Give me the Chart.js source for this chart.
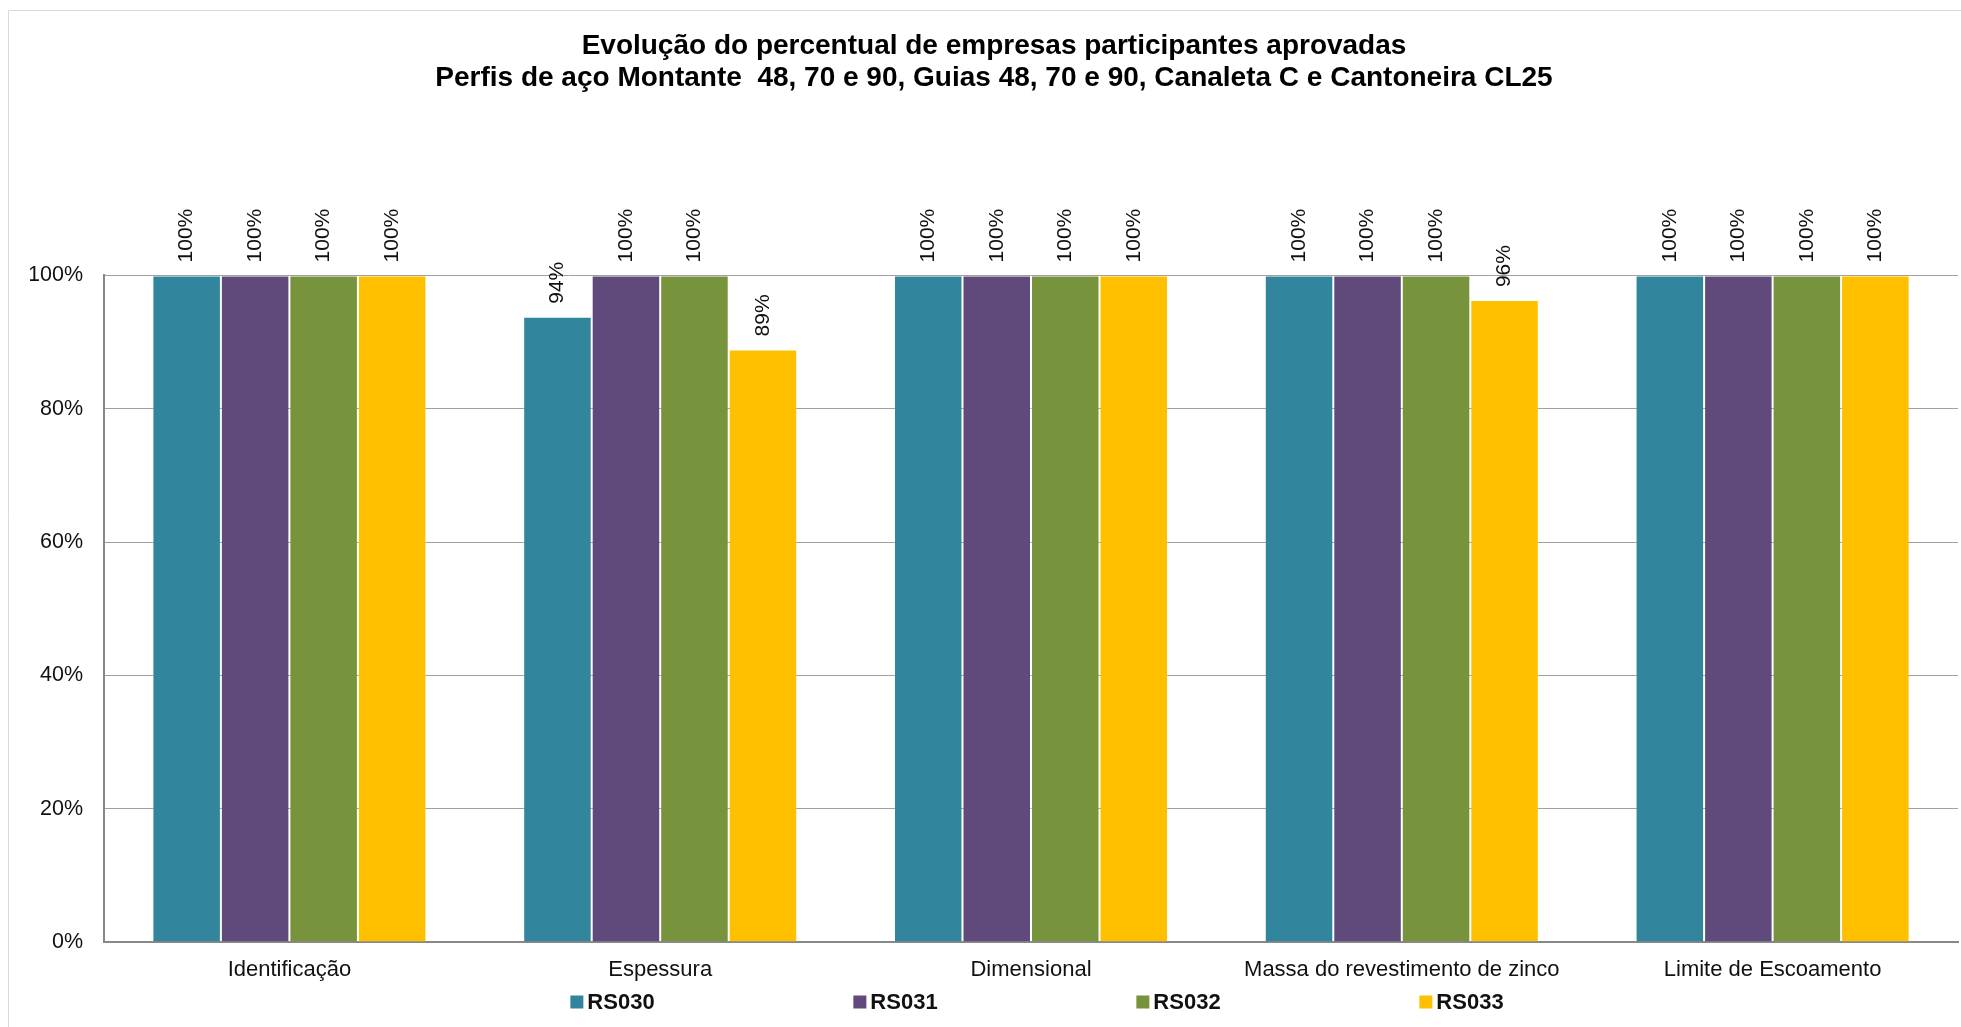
<!DOCTYPE html>
<html>
<head>
<meta charset="utf-8">
<script src="https://cdn.jsdelivr.net/npm/chart.js@4"></script>
<style>
html, body { margin: 0; padding: 0; background: #fff; }
</style>
</head>
<body>
<canvas id="grafico" width="1961" height="1027"></canvas>
<script>
var categorias = ["Identificação", "Espessura", "Dimensional", "Massa do revestimento de zinco", "Limite de Escoamento"];
var nomesSeries = ["RS030", "RS031", "RS032", "RS033"];
var rs030 = [100, 93.8, 100, 100, 100];
var rs031 = [100, 100, 100, 100, 100];
var rs032 = [100, 100, 100, 100, 100];
var rs033 = [100, 88.9, 100, 96.3, 100];
var ticksY = [0, 20, 40, 60, 80, 100];
var cores = ["#31859C", "#604A7B", "#77933C", "#FFC000"];

var fonte = '"Liberation Sans", Arial, sans-serif';

// moldura cinza clara do grafico
var molduraPlugin = {
  id: "moldura",
  beforeDraw: function(chart) {
    var ctx = chart.ctx;
    ctx.save();
    ctx.strokeStyle = "#d9d9d9";
    ctx.lineWidth = 1;
    ctx.beginPath();
    ctx.moveTo(8.5, chart.height);
    ctx.lineTo(8.5, 10.5);
    ctx.lineTo(chart.width, 10.5);
    ctx.stroke();
    ctx.restore();
  }
};

// rotulos de dados verticais acima das barras
var rotulosPlugin = {
  id: "rotulos",
  afterDatasetsDraw: function(chart) {
    var ctx = chart.ctx;
    ctx.save();
    ctx.font = "21px " + fonte;
    ctx.fillStyle = "#111";
    ctx.textAlign = "left";
    ctx.textBaseline = "middle";
    chart.data.datasets.forEach(function(ds, i) {
      chart.getDatasetMeta(i).data.forEach(function(barra, j) {
        ctx.save();
        ctx.translate(barra.x, barra.y - 13);
        ctx.rotate(-Math.PI / 2);
        ctx.fillText(Math.round(ds.data[j]) + "%", 0, 0);
        ctx.restore();
      });
    });
    ctx.restore();
  }
};

// legenda embaixo, itens bem espaçados como no Excel
var legendaPlugin = {
  id: "legenda",
  afterDraw: function(chart) {
    var ctx = chart.ctx, area = chart.chartArea;
    var passo = 283, caixa = 13, n = chart.data.datasets.length;
    ctx.save();
    ctx.font = "bold 22px " + fonte;
    ctx.textBaseline = "middle";
    ctx.textAlign = "left";
    var ultimo = caixa + 4 + ctx.measureText(chart.data.datasets[n - 1].label).width;
    var x0 = (area.left + area.right) / 2 - (passo * (n - 1) + ultimo) / 2 + 6;
    var y = chart.height - 25;
    chart.data.datasets.forEach(function(ds, i) {
      var x = x0 + i * passo;
      ctx.fillStyle = ds.backgroundColor;
      ctx.fillRect(x, y - caixa / 2, caixa, caixa);
      ctx.fillStyle = "#111";
      ctx.fillText(ds.label, x + caixa + 4, y + 1);
    });
    ctx.restore();
  }
};

var valores = [rs030, rs031, rs032, rs033];

var ctx = document.getElementById("grafico");
var grafico = new Chart(ctx, {
  type: "bar",
  data: {
    labels: categorias,
    datasets: nomesSeries.map(function(nome, i) {
      return {
        label: nome,
        data: valores[i],
        backgroundColor: cores[i],
        borderColor: "rgba(255,255,255,0.18)",
        borderWidth: 1,
        categoryPercentage: 0.739,
        barPercentage: 1.0
      };
    })
  },
  options: {
    responsive: false,
    animation: false,
    devicePixelRatio: 1,
    layout: { padding: { left: 30, right: 3, top: 0, bottom: 0 } },
    plugins: {
      legend: { display: false },
      tooltip: { enabled: false },
      title: {
        display: true,
        text: ["Evolução do percentual de empresas participantes aprovadas",
               "Perfis de aço Montante  48, 70 e 90, Guias 48, 70 e 90, Canaleta C e Cantoneira CL25"],
        color: "#000",
        font: { family: fonte, size: 28, weight: "bold", lineHeight: 1.16 },
        padding: { top: 30, bottom: 180.5 }
      }
    },
    scales: {
      x: {
        grid: { display: true, drawOnChartArea: false, drawTicks: false },
        border: { display: true, color: "#888888", width: 2 },
        ticks: { color: "#111", padding: 15, maxRotation: 0, font: { family: fonte, size: 22 } },
        afterFit: function(s) { s.height = 85; }
      },
      y: {
        min: 0,
        max: 100,
        afterBuildTicks: function(s) {
          s.ticks = ticksY.map(function(v) { return { value: v }; });
        },
        grid: { color: "#a0a0a0", lineWidth: 1, drawTicks: false },
        border: { display: true, color: "#888888", width: 2 },
        ticks: {
          color: "#111",
          padding: 21,
          font: { family: fonte, size: 21.5 },
          callback: function(v) { return v + "%"; }
        },
        afterFit: function(s) { s.width = 74; }
      }
    }
  },
  plugins: [molduraPlugin, rotulosPlugin, legendaPlugin]
});
</script>
</body>
</html>
